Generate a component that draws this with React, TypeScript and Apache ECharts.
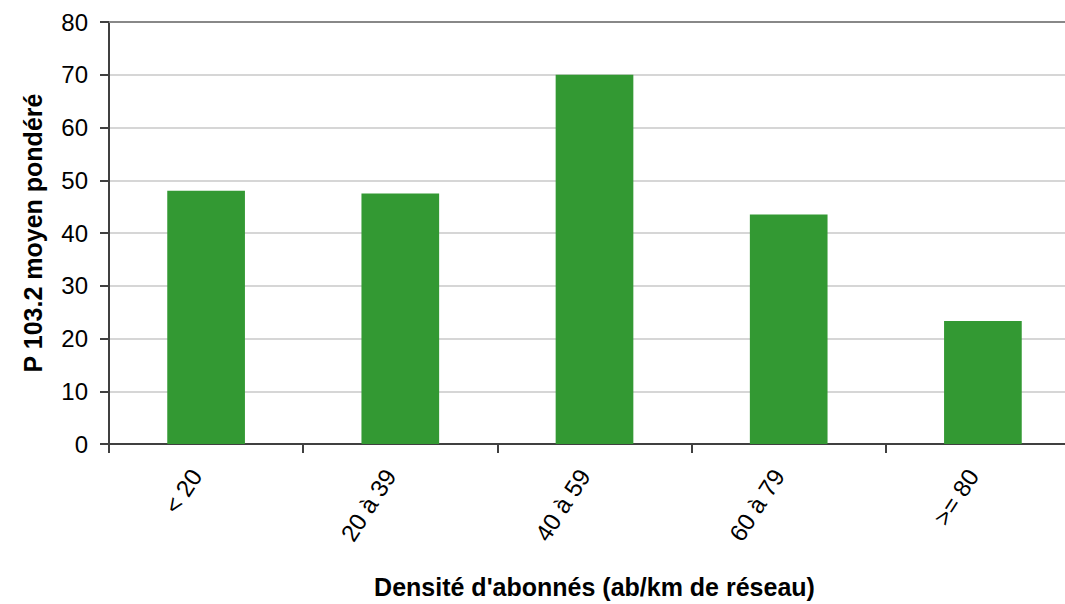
import React, { useEffect, useRef } from "react";
import * as echarts from "echarts";

const categories = ["< 20", "20 à 39", "40 à 59", "60 à 79", ">= 80"];
const values = [48.0, 47.5, 70.0, 43.5, 23.3];
const yTitle = "P 103.2 moyen pondéré";
const xTitle = "Densité d'abonnés (ab/km de réseau)";

export default function App() {
  const ref = useRef<HTMLDivElement>(null);
  useEffect(() => {
    const chart = echarts.init(ref.current!, undefined, { renderer: "svg" });
    const font = "'Liberation Sans', Arial, sans-serif";
    chart.setOption({
      animation: false,
      textStyle: { fontFamily: font },
      grid: { left: 109, top: 22, width: 971, height: 423, containLabel: false },
      xAxis: [
        {
          type: "category",
          data: categories,
          position: "bottom",
          name: xTitle,
          nameLocation: "middle",
          nameGap: 130,
          nameTextStyle: { fontFamily: font, fontSize: 25, fontWeight: "bold", color: "#000" },
          axisLine: { lineStyle: { color: "#404040", width: 2 } },
          axisTick: { show: true, length: 9, alignWithLabel: false, lineStyle: { color: "#404040", width: 2 } },
          axisLabel: {
            rotate: 57,
            margin: 34,
            fontSize: 24,
            color: "#000",
            fontFamily: font,
            interval: 0,
            verticalAlign: "bottom",
          },
          splitLine: { show: false },
        },
        {
          type: "category",
          data: categories,
          position: "top",
          axisLine: { show: true, lineStyle: { color: "#888888", width: 2 } },
          axisTick: { show: false },
          axisLabel: { show: false },
          splitLine: { show: false },
        },
      ],
      yAxis: {
        type: "value",
        min: 0,
        max: 80,
        interval: 10,
        name: yTitle,
        nameLocation: "middle",
        nameGap: 64,
        nameTextStyle: { fontFamily: font, fontSize: 25, fontWeight: "bold", color: "#000" },
        axisLine: { show: true, lineStyle: { color: "#404040", width: 2 } },
        axisTick: { show: true, length: 9, lineStyle: { color: "#404040", width: 2 } },
        axisLabel: { margin: 21, fontSize: 24, color: "#000", fontFamily: font },
        splitLine: { show: true, lineStyle: { color: "#d6d6d6", width: 2 } },
      },
      series: [
        {
          type: "bar",
          data: values,
          xAxisIndex: 0,
          barWidth: "40%",
          itemStyle: { color: "#339933" },
        },
      ],
    });
    return () => chart.dispose();
  }, []);
  return (
    <div style={{ position: "fixed", left: 0, top: 0, width: 1065, height: 604, overflow: "hidden", background: "#fff" }}>
      <div ref={ref} style={{ position: "absolute", left: 0, top: 0, width: 1090, height: 604 }} />
    </div>
  );
}
